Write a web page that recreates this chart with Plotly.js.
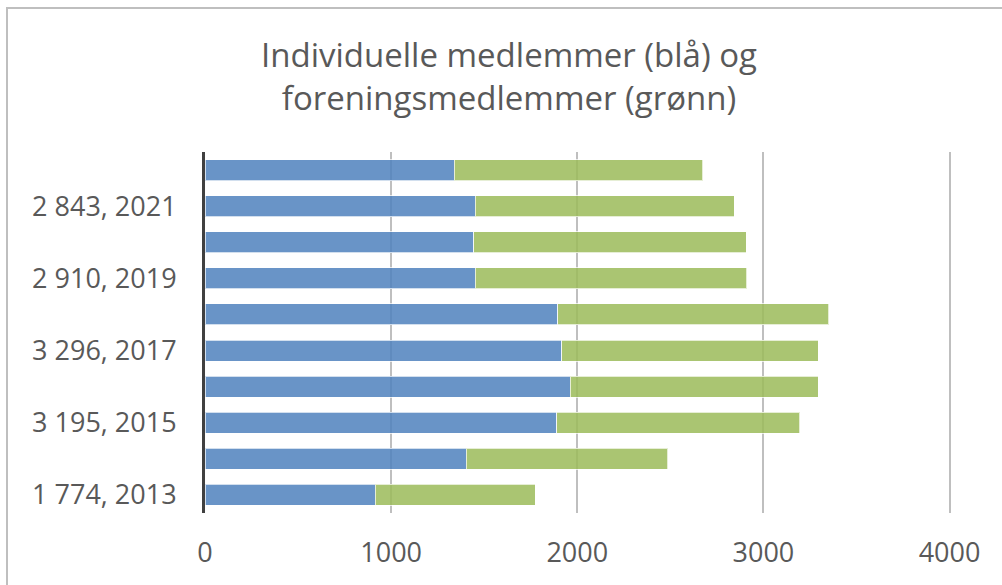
<!DOCTYPE html>
<html>
<head>
<meta charset="utf-8">
<script src="https://cdn.plot.ly/plotly-3.0.1.min.js"></script>
<style>
  html, body { margin: 0; padding: 0; background: #ffffff; }
  #chart { width: 1002px; height: 585px; }
  #frame { position: absolute; left: 6px; top: 7px; width: 1100px; height: 700px;
           border-left: 2px solid #bfbfbf; border-top: 2px solid #bfbfbf; pointer-events: none; }
</style>
</head>
<body>
<div id="chart"></div>
<div id="frame"></div>
<script>
// Categories (bottom to top): "total, year"
const categories = ["1 774, 2013", "2 486, 2014", "3 195, 2015", "3 296, 2016", "3 296, 2017",
                    "3 351, 2018", "2 910, 2019", "2 909, 2020", "2 843, 2021", "2 674, 2022"];
// Individual members (blue)
const individuelle = [915, 1403, 1889, 1961, 1918, 1896, 1451, 1444, 1453, 1340];
// Association members (green)
const foreninger = [859, 1083, 1306, 1335, 1378, 1455, 1459, 1465, 1390, 1334];
// Tick labels shown on the category axis
const shownTicks = ["1 774, 2013", "3 195, 2015", "3 296, 2017", "2 910, 2019", "2 843, 2021"];
const xTicks = [0, 1000, 2000, 3000, 4000];

const fontFam = "Open Sans, Liberation Sans, sans-serif";

const traces = [
  {
    type: "bar", orientation: "h", name: "Individuelle",
    y: categories, x: individuelle,
    marker: { color: "rgba(79,129,189,0.85)", line: { color: "rgba(255,255,255,0.7)", width: 1 } },
    hoverinfo: "x+y"
  },
  {
    type: "bar", orientation: "h", name: "Foreninger",
    y: categories, x: foreninger,
    marker: { color: "rgba(155,187,89,0.85)", line: { color: "rgba(255,255,255,0.7)", width: 1 } },
    hoverinfo: "x+y"
  }
];

const layout = {
  width: 1002, height: 585,
  paper_bgcolor: "#ffffff", plot_bgcolor: "#ffffff",
  barmode: "stack", bargap: 0.42,
  showlegend: false,
  margin: { l: 205, r: 51, t: 152, b: 72, pad: 0 },
  title: {
    text: "Individuelle medlemmer (blå) og<br>foreningsmedlemmer (grønn)",
    font: { family: fontFam, size: 33, color: "#595959" },
    x: 0.508, xref: "container", xanchor: "center",
    y: 0.885, yref: "container", yanchor: "top"
  },
  xaxis: {
    range: [0, 4008], tickvals: xTicks, ticktext: xTicks.map(String),
    showgrid: true, gridcolor: "#bfbfbf", gridwidth: 2,
    zeroline: false, showline: false, ticks: "",
    ticklabelstandoff: 21,
    tickfont: { family: fontFam, size: 27, color: "#595959" }
  },
  yaxis: {
    type: "category", categoryorder: "array", categoryarray: categories,
    tickvals: shownTicks, ticktext: shownTicks,
    showgrid: false, zeroline: false,
    showline: true, linecolor: "#404040", linewidth: 3,
    ticks: "", ticklabelstandoff: 20,
    tickfont: { family: fontFam, size: 27, color: "#595959" }
  }
};

Plotly.newPlot("chart", traces, layout, { displayModeBar: false, staticPlot: true });
</script>
</body>
</html>
